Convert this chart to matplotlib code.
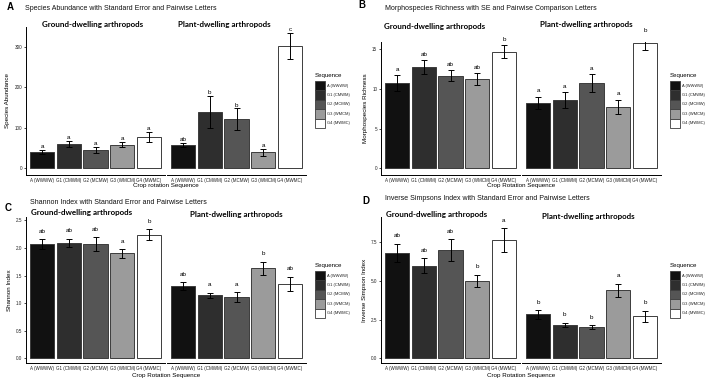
import matplotlib
matplotlib.use('Agg')
import matplotlib.pyplot as plt
from matplotlib.patches import Rectangle

W, H = 709, 380

sequences = ['A (WWWW)', 'G1 (CMWM)', 'G2 (MCMW)', 'G3 (WMCM)', 'G4 (MWMC)']
fills = ['#111111', '#2e2e2e', '#555555', '#9b9b9b', '#ffffff']
facet_names = ['Ground-dwelling arthropods', 'Plant-dwelling arthropods']

# A - species abundance
abund_ground = [40, 59, 45, 58, 77]
abund_ground_se = [5, 8, 7, 7, 12]
abund_ground_let = ['a', 'a', 'a', 'a', 'a']
abund_plant = [58, 139, 121, 39, 303]
abund_plant_se = [5, 40, 27, 9, 32]
abund_plant_let = ['ab', 'b', 'b', 'a', 'c']

# B - morphospecies richness
rich_ground = [10.75, 12.8, 11.7, 11.25, 14.7]
rich_ground_se = [1.0, 0.85, 0.7, 0.75, 0.8]
rich_ground_let = ['a', 'ab', 'ab', 'ab', 'b']
rich_plant = [8.25, 8.6, 10.75, 7.75, 15.8]
rich_plant_se = [0.75, 1.0, 1.1, 0.9, 0.85]
rich_plant_let = ['a', 'a', 'a', 'a', 'b']

# C - Shannon index
shan_ground = [2.07, 2.09, 2.07, 1.90, 2.24]
shan_ground_se = [0.09, 0.08, 0.12, 0.075, 0.1]
shan_ground_let = ['ab', 'ab', 'ab', 'a', 'b']
shan_plant = [1.31, 1.14, 1.11, 1.63, 1.35]
shan_plant_se = [0.065, 0.045, 0.09, 0.12, 0.125]
shan_plant_let = ['ab', 'a', 'a', 'b', 'ab']

# D - inverse Simpson index
simp_ground = [6.79, 5.97, 6.96, 4.99, 7.6]
simp_ground_se = [0.6, 0.48, 0.7, 0.4, 0.77]
simp_ground_let = ['ab', 'ab', 'ab', 'b', 'a']
simp_plant = [2.83, 2.16, 2.01, 4.37, 2.72]
simp_plant_se = [0.27, 0.12, 0.12, 0.44, 0.35]
simp_plant_let = ['b', 'b', 'b', 'a', 'b']

panels = [
    dict(label='A', ox=0, oy=0, lab_xy=(7, 7), title_xy=(25, 9),
         title='Species Abundance with Standard Error and Pairwise Letters',
         ylabel='Species Abundance', xlabel='Crop rotation Sequence',
         top=27, bottom=175, ylim=(-17.4, 349.6), yticks=[0, 100, 200, 300], fmt='{:.0f}',
         strips=[(93, 25), (224, 25)], let_off=0.5,
         data=[(abund_ground, abund_ground_se, abund_ground_let),
               (abund_plant, abund_plant_se, abund_plant_let)]),
    dict(label='B', ox=355, oy=0, lab_xy=(3, 5), title_xy=(30, 9),
         title='Morphospecies Richness with SE and Pairwise Comparison Letters',
         ylabel='Morphospecies Richness', xlabel='Crop Rotation Sequence',
         top=42, bottom=175, ylim=(-0.84, 15.93), yticks=[0, 5, 10, 15], fmt='{:.0f}',
         strips=[(80, 26), (231, 25)], let_off=2.5,
         data=[(rich_ground, rich_ground_se, rich_ground_let),
               (rich_plant, rich_plant_se, rich_plant_let)]),
    dict(label='C', ox=0, oy=190, lab_xy=(5, 18), title_xy=(30, 12),
         title='Shannon Index with Standard Error and Pairwise Letters',
         ylabel='Shannon Index', xlabel='Crop Rotation Sequence',
         top=27, bottom=173.3, ylim=(-0.09, 2.56), yticks=[0, 0.5, 1.0, 1.5, 2.0, 2.5], fmt='{:.1f}',
         strips=[(82, 23), (236, 24)], let_off=4,
         data=[(shan_ground, shan_ground_se, shan_ground_let),
               (shan_plant, shan_plant_se, shan_plant_let)]),
    dict(label='D', ox=355, oy=190, lab_xy=(7, 11), title_xy=(30, 9),
         title='Inverse Simpsons Index with Standard Error and Pairwise Letters',
         ylabel='Inverse Simpson Index', xlabel='Crop Rotation Sequence',
         top=27, bottom=173.3, ylim=(-0.32, 9.1), yticks=[0, 2.5, 5.0, 7.5], fmt='{:.1f}',
         strips=[(82, 24), (233, 27)], let_off=4,
         data=[(simp_ground, simp_ground_se, simp_ground_let),
               (simp_plant, simp_plant_se, simp_plant_let)]),
]

SMALL = 'Liberation Sans'
STRIP = 'Lato'

fig = plt.figure(figsize=(W / 100, H / 100), dpi=100)


def fx(x):
    return x / W


def fy(y):
    return 1 - y / H


for p in panels:
    ox, oy = p['ox'], p['oy']
    fig.text(fx(ox + p['lab_xy'][0]), fy(oy + p['lab_xy'][1]), p['label'],
             fontsize=7, fontweight='bold', family=SMALL, ha='left', va='center')
    fig.text(fx(ox + p['title_xy'][0]), fy(oy + p['title_xy'][1]), p['title'],
             fontsize=5.0, family=SMALL, ha='left', va='center', color='#111111')

    for k, (vals, ses, lets) in enumerate(p['data']):
        x0 = ox + (26 if k == 0 else 167)
        ax = fig.add_axes([fx(x0), fy(oy + p['bottom']), 139 / W,
                           (p['bottom'] - p['top']) / H])
        xs = range(len(sequences))
        ax.bar(xs, vals, width=0.9, color=fills, edgecolor='#3c3c3c', linewidth=0.7)
        ax.errorbar(xs, vals, yerr=ses, fmt='none', ecolor='black',
                    elinewidth=0.7, capsize=2.4, capthick=0.7)
        for i in xs:
            ax.annotate(lets[i], (i, vals[i] + ses[i]), xytext=(0, p['let_off']),
                        textcoords='offset points', ha='center', va='bottom',
                        fontsize=4.5, family=SMALL, annotation_clip=False)
        ax.set_xlim(-0.6, 4.6)
        ax.set_ylim(p['ylim'])
        ax.set_xticks(list(xs))
        ax.set_xticklabels(sequences, fontsize=3.25, family=SMALL, color='#222222')
        for s in ['top', 'right']:
            ax.spines[s].set_visible(False)
        ax.spines['bottom'].set_linewidth(0.7)
        ax.spines['left'].set_linewidth(0.7)
        ax.tick_params(axis='x', length=0, pad=2)
        if k == 0:
            ax.set_yticks(p['yticks'])
            ax.set_yticklabels([p['fmt'].format(v) for v in p['yticks']],
                               fontsize=3.3, family=SMALL, color='#222222')
            ax.tick_params(axis='y', length=1.2, width=0.5, pad=1.5)
            ax.set_ylabel(p['ylabel'], fontsize=4.5, family=SMALL, labelpad=3)
        else:
            ax.spines['left'].set_visible(False)
            ax.set_yticks([])
        ax.patch.set_alpha(0)

        sx, sy = p['strips'][k]
        fig.text(fx(ox + sx), fy(oy + sy), facet_names[k], fontsize=5.8,
                 fontweight='bold', family=STRIP, ha='center', va='center')

    fig.text(fx(ox + 166), fy(oy + 185.5), p['xlabel'], fontsize=4.5,
             family=SMALL, ha='center', va='center')

    # legend
    fig.text(fx(ox + 315), fy(oy + 76), 'Sequence', fontsize=4.4,
             family=SMALL, ha='left', va='center')
    for i, name in enumerate(sequences):
        ky = oy + 81 + i * 9.4
        fig.patches.append(Rectangle((fx(ox + 315), fy(ky + 9.4)), 10 / W, 9.4 / H,
                                     transform=fig.transFigure, facecolor=fills[i],
                                     edgecolor='#3c3c3c', linewidth=0.6))
        fig.text(fx(ox + 327), fy(ky + 4.7), name, fontsize=2.9,
                 family=SMALL, ha='left', va='center', color='#222222')

fig.savefig('out.png', dpi=100)
